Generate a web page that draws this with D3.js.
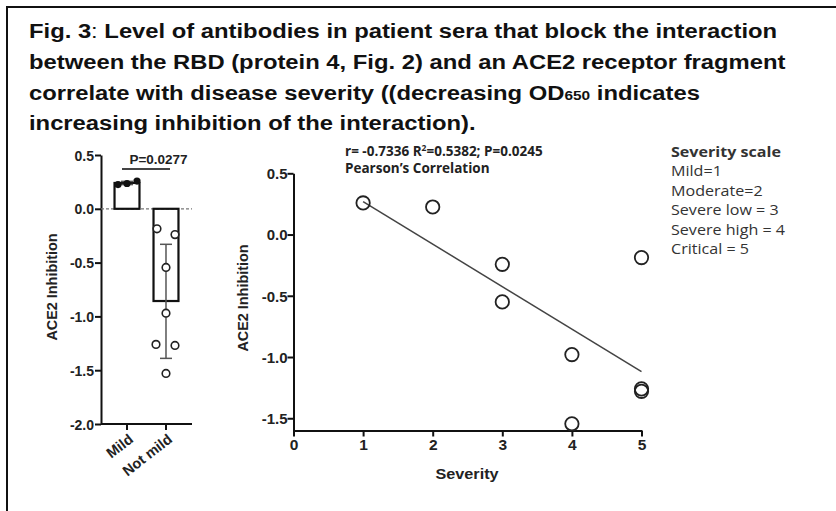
<!DOCTYPE html>
<html>
<head>
<meta charset="utf-8">
<script src="https://cdn.jsdelivr.net/npm/d3@7"></script>
<style>
  body { margin: 0; background: #fff; }
  svg { display: block; }
  .tick text { font-family: "Liberation Sans", Arial, sans-serif; font-weight: bold; fill: #222; }
</style>
</head>
<body>
<svg id="fig" width="836" height="511"></svg>
<script>
// left panel: bar chart
const groups = ['Mild', 'Not mild'];
const groupMeans = [0.24, -0.857];
const groupErr = [[0.225, 0.255], [-0.33, -1.39]];
const mildPoints = [0.225, 0.235, 0.258];
const notMildPoints = [-0.186, -0.24, -0.545, -0.97, -1.26, -1.27, -1.53];
const barTicks = [0.5, 0, -0.5, -1, -1.5, -2];

// right panel: scatter
const severity = [1, 2, 3, 3, 4, 4, 5, 5, 5];
const inhibition = [0.258, 0.225, -0.243, -0.55, -0.98, -1.545, -0.188, -1.26, -1.28];
const scatterYTicks = [0.5, 0, -0.5, -1, -1.5];
const scatterXTicks = [0, 1, 2, 3, 4, 5];
const severityScale = ['Mild=1', 'Moderate=2', 'Severe low = 3', 'Severe high = 4', 'Critical = 5'];

const titleLines = [
  'Level of antibodies in patient sera that block the interaction',
  'between the RBD (protein 4, Fig. 2) and an ACE2 receptor fragment',
  'correlate with disease severity ((decreasing OD',
  'increasing inhibition of the interaction).'
];

const svg = d3.select('#fig');
const font = '"Liberation Sans", Arial, sans-serif';
const calibri = '"Open Sans", "Noto Sans", sans-serif';

// frame
svg.append('line').attr('x1', 6).attr('x2', 836).attr('y1', 7).attr('y2', 7)
  .attr('stroke', '#111').attr('stroke-width', 2);
svg.append('line').attr('x1', 7).attr('x2', 7).attr('y1', 6).attr('y2', 511)
  .attr('stroke', '#111').attr('stroke-width', 2);

// title (the original is set a bit wide, so stretch horizontally)
const title = svg.append('g').attr('transform', 'translate(29,0) scale(1.19,1)')
  .attr('font-family', font).attr('font-weight', 'bold')
  .attr('font-size', 20).attr('fill', '#111');
const lineY = [38, 69, 100, 130];
const t0 = title.append('text').attr('x', 0).attr('y', lineY[0]);
t0.append('tspan').text('Fig. 3');
t0.append('tspan').attr('font-weight', 'normal').text(': ');
t0.append('tspan').text(titleLines[0]);
title.append('text').attr('x', 0).attr('y', lineY[1]).text(titleLines[1]);
const t2 = title.append('text').attr('x', 0).attr('y', lineY[2]);
t2.append('tspan').text(titleLines[2]);
t2.append('tspan').attr('font-size', 13).text('650');
t2.append('tspan').text(' indicates');
title.append('text').attr('x', 0).attr('y', lineY[3]).text(titleLines[3]);

// ---------- left panel ----------
const yL = d3.scaleLinear().domain([-2, 0.5]).range([424, 155]);
const xL = d3.scaleBand().domain(groups).range([101, 192]).paddingInner(0.36).paddingOuter(0.347);

const left = svg.append('g');

left.append('g').attr('transform', 'translate(101,0)')
  .call(d3.axisLeft(yL).tickValues(barTicks).tickFormat(d => d.toFixed(1)).tickSize(6).tickSizeOuter(0))
  .call(g => g.selectAll('path,line').attr('stroke', '#111').attr('stroke-width', 2))
  .call(g => g.selectAll('text').attr('font-size', 14).attr('x', -7).attr('dy', '0.36em'));

left.append('g').attr('transform', 'translate(0,424)')
  .call(d3.axisBottom(xL).tickSize(6).tickSizeOuter(0))
  .call(g => g.select('.domain').attr('d', 'M101,0H192'))
  .call(g => g.selectAll('path,line').attr('stroke', '#111').attr('stroke-width', 2))
  .call(g => g.selectAll('text').attr('font-size', 14.5).attr('text-anchor', 'end')
    .attr('x', 0).attr('y', 0).attr('dy', '0.35em')
    .attr('transform', 'translate(4,13) rotate(-38)'));

// zero dashed line
left.append('line').attr('x1', 101).attr('x2', 192).attr('y1', yL(0)).attr('y2', yL(0))
  .attr('stroke', '#777').attr('stroke-width', 1.2).attr('stroke-dasharray', '3,2');

left.selectAll('rect.bar').data(groups).join('rect').attr('class', 'bar')
  .attr('x', d => xL(d)).attr('width', xL.bandwidth())
  .attr('y', (d, i) => yL(Math.max(0, groupMeans[i])))
  .attr('height', (d, i) => Math.abs(yL(groupMeans[i]) - yL(0)))
  .attr('fill', 'none').attr('stroke', '#111').attr('stroke-width', 2.2);

// error bars
groups.forEach((g, i) => {
  const cx = xL(g) + xL.bandwidth() / 2;
  const [a, b] = groupErr[i];
  left.append('line').attr('x1', cx).attr('x2', cx).attr('y1', yL(a)).attr('y2', yL(b))
    .attr('stroke', '#555').attr('stroke-width', 1.5);
  [a, b].forEach(v => left.append('line').attr('x1', cx - 6).attr('x2', cx + 6)
    .attr('y1', yL(v)).attr('y2', yL(v)).attr('stroke', '#555').attr('stroke-width', 1.5));
});

const mildX = [-9, 0, 10];
left.selectAll('circle.mild').data(mildPoints).join('circle').attr('class', 'mild')
  .attr('cx', (d, i) => xL('Mild') + xL.bandwidth() / 2 + mildX[i]).attr('cy', d => yL(d))
  .attr('r', 3.6).attr('fill', '#111');

const notMildX = [-9, 9, 0, 0, -10, 9, 0];
left.selectAll('circle.nm').data(notMildPoints).join('circle').attr('class', 'nm')
  .attr('cx', (d, i) => xL('Not mild') + xL.bandwidth() / 2 + notMildX[i]).attr('cy', d => yL(d))
  .attr('r', 3.8).attr('fill', '#fff').attr('stroke', '#222').attr('stroke-width', 1.6);

// significance
left.append('line').attr('x1', 122).attr('x2', 170).attr('y1', 169).attr('y2', 169)
  .attr('stroke', '#444').attr('stroke-width', 2);
left.append('text').attr('x', 158.5).attr('y', 164).attr('text-anchor', 'middle')
  .attr('font-family', font).attr('font-weight', 'bold').attr('font-size', 13.5).attr('fill', '#222')
  .text('P=0.0277');

left.append('text').attr('transform', 'translate(57,287) rotate(-90)')
  .attr('text-anchor', 'middle').attr('font-family', font).attr('font-weight', 'bold')
  .attr('font-size', 14.4).attr('fill', '#222').text('ACE2 Inhibition');

// ---------- right panel ----------
const xR = d3.scaleLinear().domain([0, 5]).range([293.5, 641.5]);
const yR = d3.scaleLinear().domain([-1.6, 0.5]).range([430.5, 173.3]);

const right = svg.append('g');

right.append('g').attr('transform', 'translate(293.5,0)')
  .call(d3.axisLeft(yR).tickValues(scatterYTicks).tickFormat(d => d.toFixed(1)).tickSize(6).tickSizeOuter(0))
  .call(g => g.selectAll('path,line').attr('stroke', '#111').attr('stroke-width', 2))
  .call(g => g.selectAll('text').attr('font-size', 15).attr('x', -6).attr('dy', '0.36em'));

right.append('g').attr('transform', 'translate(0,430.5)')
  .call(d3.axisBottom(xR).tickValues(scatterXTicks).tickFormat(d3.format('d')).tickSize(6).tickSizeOuter(0))
  .call(g => g.selectAll('path,line').attr('stroke', '#111').attr('stroke-width', 2))
  .call(g => g.selectAll('text').attr('font-size', 15.5).attr('y', 8).attr('dy', '0.75em'));

// least squares fit
const mx = d3.mean(severity), my = d3.mean(inhibition);
const sxy = d3.sum(severity, (x, i) => (x - mx) * (inhibition[i] - my));
const sxx = d3.sum(severity, x => (x - mx) * (x - mx));
const slope = sxy / sxx, icpt = my - slope * mx;
right.append('line')
  .attr('x1', xR(1)).attr('y1', yR(icpt + slope))
  .attr('x2', xR(5)).attr('y2', yR(icpt + slope * 5))
  .attr('stroke', '#444').attr('stroke-width', 1.5);

right.selectAll('circle').data(severity).join('circle')
  .attr('cx', d => xR(d)).attr('cy', (d, i) => yR(inhibition[i]))
  .attr('r', 6.7).attr('fill', 'none').attr('stroke', '#222').attr('stroke-width', 1.8);

right.append('text').attr('transform', 'translate(248,298) rotate(-90)')
  .attr('text-anchor', 'middle').attr('font-family', font).attr('font-weight', 'bold')
  .attr('font-size', 14.4).attr('fill', '#222').text('ACE2 Inhibition');

right.append('text').attr('transform', 'translate(467,479) scale(1.12,1)').attr('text-anchor', 'middle')
  .attr('font-family', font).attr('font-weight', 'bold').attr('font-size', 14.5).attr('fill', '#222')
  .text('Severity');

const stats = right.append('text').attr('font-family', calibri).attr('font-weight', 'bold')
  .attr('font-size', 13.5).attr('fill', '#222');
const s1 = stats.append('tspan').attr('x', 345).attr('y', 156);
s1.append('tspan').text('r= -0.7336 R');
s1.append('tspan').attr('font-size', 8.5).attr('dy', -5).text('2');
s1.append('tspan').attr('dy', 5).text('=0.5382; P=0.0245');
stats.append('tspan').attr('x', 345).attr('y', 173).text('Pearson\u2019s Correlation');

// legend, a little wide like the original
const legend = right.append('g').attr('transform', 'translate(671,0) scale(1.15,1)')
  .attr('font-family', calibri).attr('font-size', 14).attr('fill', '#333');
legend.append('text').attr('x', 0).attr('y', 157).attr('font-weight', 'bold').text('Severity scale');
legend.selectAll('text.item').data(severityScale).join('text').attr('class', 'item')
  .attr('x', 0).attr('y', (d, i) => 176.5 + i * 19.5).text(d => d);
</script>
</body>
</html>
